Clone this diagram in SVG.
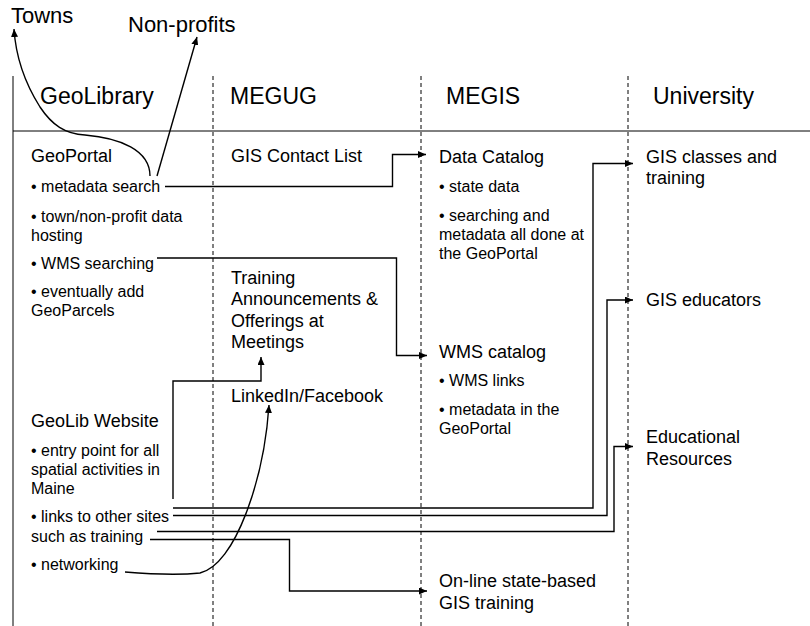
<svg xmlns="http://www.w3.org/2000/svg" width="810" height="626" viewBox="0 0 810 626">
<defs>
<style>
text{font-family:"Liberation Sans",Arial,sans-serif;fill:#000}
.hd{font-size:23px}
.top{font-size:22px}
.h{font-size:18px}
.b{font-size:16px}
.grid{stroke:#000;stroke-width:1;fill:none}
.dash{stroke:#000;stroke-width:1;stroke-dasharray:4 3;fill:none}
.c{stroke:#000;stroke-width:1.4;fill:none;marker-end:url(#ah)}
</style>
<marker id="ah" markerUnits="userSpaceOnUse" markerWidth="8" markerHeight="7" refX="8" refY="3.5" orient="auto">
<path d="M0,0 L8,3.5 L0,7 Z" fill="#000"/>
</marker>
</defs>
<rect width="810" height="626" fill="#fff"/>
<g id="grid">
<line class="grid" x1="13" y1="76" x2="13" y2="626" stroke="#444"/>
<line class="grid" x1="13" y1="131" x2="810" y2="131"/>
<line class="dash" x1="213" y1="76" x2="213" y2="626"/>
<line class="dash" x1="421" y1="76" x2="421" y2="626"/>
<line class="dash" x1="628" y1="76" x2="628" y2="626"/>
</g>
<g id="towns"><text class="top" x="11" y="23">Towns</text></g>
<g id="nonprofits"><text class="top" x="128" y="32">Non-profits</text></g>
<g id="h-geolibrary"><text class="hd" x="40" y="104">GeoLibrary</text></g>
<g id="h-megug"><text class="hd" x="230" y="104">MEGUG</text></g>
<g id="h-megis"><text class="hd" x="446" y="104">MEGIS</text></g>
<g id="h-university"><text class="hd" x="653" y="104">University</text></g>
<g id="geoportal">
<text class="h" x="31" y="162">GeoPortal</text>
<text class="b" x="31" y="192">• metadata search</text>
<text class="b" x="31" y="222">• town/non-profit data</text>
<text class="b" x="31" y="240.5">hosting</text>
<text class="b" x="31" y="268.5">• WMS searching</text>
<text class="b" x="31" y="297">• eventually add</text>
<text class="b" x="31" y="315.5">GeoParcels</text>
</g>
<g id="geolib-website">
<text class="h" x="31" y="427">GeoLib Website</text>
<text class="b" x="31" y="456">• entry point for all</text>
<text class="b" x="31" y="475">spatial activities in</text>
<text class="b" x="31" y="494">Maine</text>
<text class="b" x="31" y="522">• links to other sites</text>
<text class="b" x="31" y="542">such as training</text>
<text class="b" x="31" y="570">• networking</text>
</g>
<g id="gis-contact-list"><text class="h" x="231" y="162">GIS Contact List</text></g>
<g id="training-announcements">
<text class="h" x="231" y="283.5">Training</text>
<text class="h" x="231" y="305">Announcements &amp;</text>
<text class="h" x="231" y="326.5">Offerings at</text>
<text class="h" x="231" y="348">Meetings</text>
</g>
<g id="linkedin"><text class="h" x="231" y="402">LinkedIn/Facebook</text></g>
<g id="data-catalog">
<text class="h" x="439" y="162.5">Data Catalog</text>
<text class="b" x="439" y="192">• state data</text>
<text class="b" x="439" y="221">• searching and</text>
<text class="b" x="439" y="239.5">metadata all done at</text>
<text class="b" x="439" y="258.5">the GeoPortal</text>
</g>
<g id="wms-catalog">
<text class="h" x="439" y="358">WMS catalog</text>
<text class="b" x="439" y="386">• WMS links</text>
<text class="b" x="439" y="415">• metadata in the</text>
<text class="b" x="439" y="433.5">GeoPortal</text>
</g>
<g id="online-training">
<text class="h" x="439" y="587">On-line state-based</text>
<text class="h" x="439" y="608.5">GIS training</text>
</g>
<g id="gis-classes">
<text class="h" x="646" y="162.5">GIS classes and</text>
<text class="h" x="646" y="184">training</text>
</g>
<g id="gis-educators"><text class="h" x="646" y="306">GIS educators</text></g>
<g id="educational-resources">
<text class="h" x="646" y="443">Educational</text>
<text class="h" x="646" y="464.5">Resources</text>
</g>
<g id="connectors">
<path class="c" d="M150,176 C150,150 120,138 85,135 C65,134 52,125 40,107 C28,88 16,60 14,29"/>
<path class="c" d="M157,176 L197,37"/>
<path class="c" d="M165,186.5 H392.5 V154.5 H426"/>
<path class="c" d="M157,258 H396.5 V355.5 H427"/>
<path class="c" d="M173,499 V381 H261 V357"/>
<path class="c" d="M125,572 C150,574 180,575 200,573 C235,565 264,480 269,405"/>
<path class="c" d="M173,508 H593 V163.5 H633"/>
<path class="c" d="M173,515.5 H607 V300 H633"/>
<path class="c" d="M157,531.5 H614 V446.5 H633"/>
<path class="c" d="M150,539.5 H289.5 V591 H427"/>
</g>
</svg>
